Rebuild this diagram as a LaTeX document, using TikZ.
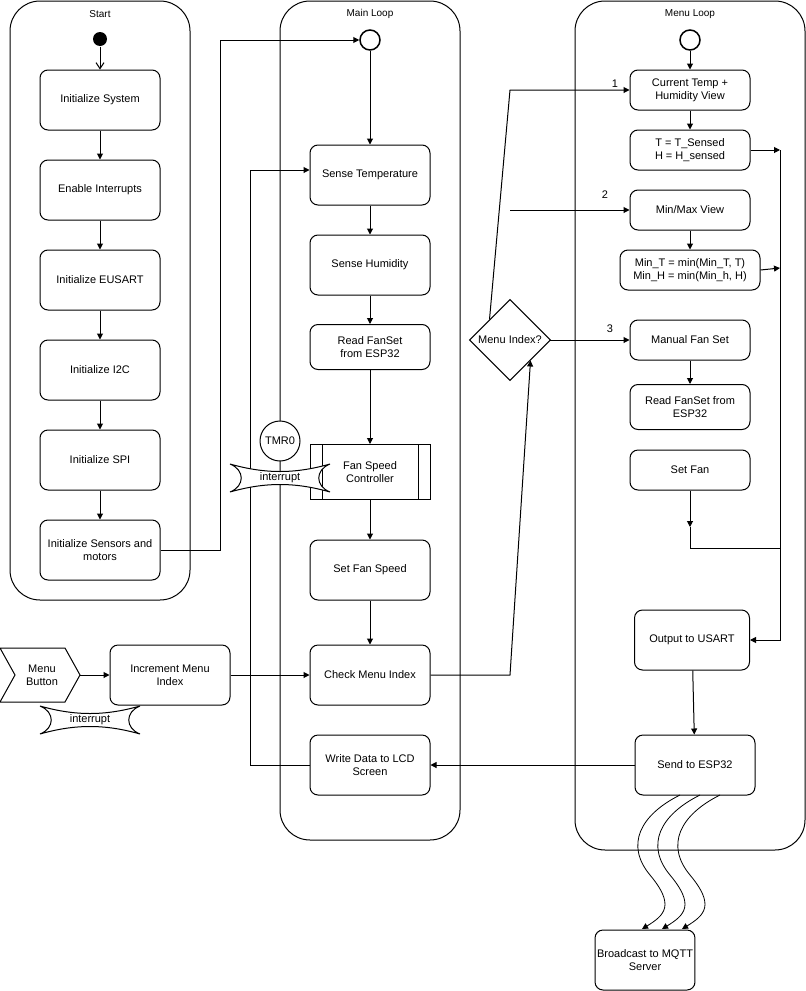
\documentclass[tikz,border=0pt]{standalone}
\usepackage{fontspec}
\setmainfont{Liberation Sans}
\usetikzlibrary{arrows.meta}
\begin{document}
\begin{tikzpicture}[x=1pt,y=-1pt,line width=1pt,font=\fontsize{11}{13}\selectfont,
  box/.style={draw,rounded corners=8pt,align=center,minimum width=120pt,minimum height=60pt,inner sep=2pt},
  lane/.style={draw,rounded corners=30pt},
  arr/.style={-{Triangle[length=6pt,width=6pt]}},
  ttl/.style={font=\fontsize{10}{12}\selectfont}]
\useasboundingbox (0,0) rectangle (806,991);
% lanes
\draw[lane] (10,1) rectangle (190,600);
\draw[lane] (280,1) rectangle (460,840);
\draw[lane] (575,1) rectangle (805,850);
\node[ttl] (t1) at (100,14) {Start};
\node[ttl] (t2) at (370,14) {Main Loop};
\node[ttl] (t3) at (690,14) {Menu Loop};
% start lane
\node[circle,fill=black,minimum size=14pt,inner sep=0] (dot) at (100,39) {};
\node[box] (is) at (100,100) {Initialize System};
\node[box] (ei) at (100,190) {Enable Interrupts};
\node[box] (eu) at (100,280) {Initialize EUSART};
\node[box] (i2) at (100,370) {Initialize I2C};
\node[box] (sp) at (100,460) {Initialize SPI};
\node[box] (sm) at (100,550) {Initialize Sensors and\\motors};
\draw[-{Straight Barb[length=6pt,width=8pt]}] (dot) -- (is);
\draw[arr] (is) -- (ei);
\draw[arr] (ei) -- (eu);
\draw[arr] (eu) -- (i2);
\draw[arr] (i2) -- (sp);
\draw[arr] (sp) -- (sm);
% main loop
\node[circle,draw,line width=1.5pt,minimum size=20pt,inner sep=0] (mc) at (370,40) {};
\node[box] (st) at (370,175) {Sense Temperature};
\node[box] (sh) at (370,265) {Sense Humidity};
\node[box,minimum height=45pt] (rf) at (370,347) {Read FanSet\\from ESP32};
\node[draw,align=center,minimum width=120pt,minimum height=55pt] (fc) at (370,472) {Fan Speed\\Controller};
\draw (322,445) -- (322,500) (418,445) -- (418,500);
\node[box] (sf) at (370,570) {Set Fan Speed};
\node[box] (cm) at (370,675) {Check Menu Index};
\node[box] (wd) at (370,765) {Write Data to LCD\\Screen};
\draw[arr] (sm.east) -| (220,40) -- (mc);
\draw[arr] (mc) -- (st);
\draw[arr] (st) -- (sh);
\draw[arr] (sh) -- (rf);
\draw[arr] (rf) -- (fc);
\draw[arr] (fc) -- (sf);
\draw[arr] (sf) -- (cm);
\draw[arr] (wd.west) -- (250,765) -- (250,170) -- (st.west |- 0,170);
\node[circle,draw,fill=white,minimum size=40pt,inner sep=0] (tmr) at (280,441) {TMR0};
\draw[fill=white] (230,464) .. controls (265,474) and (295,474) .. (330,464) .. controls (315,470) and (315,486) .. (330,492) .. controls (295,482) and (265,482) .. (230,492) .. controls (245,486) and (245,470) .. cycle;
\node (int1) at (280,478) {interrupt};
% menu button
\draw (0,648) -- (65,648) -- (80,675) -- (65,702) -- (0,702) -- (15,675) -- cycle;
\node[align=center] (mb) at (42,675) {Menu\\Button};
\node[box] (im) at (170,675) {Increment Menu\\Index};
\draw[arr] (80,675) -- (im);
\draw[arr] (im) -- (cm);
\draw[fill=white] (40,706) .. controls (75,716) and (105,716) .. (140,706) .. controls (125,712) and (125,728) .. (140,734) .. controls (105,724) and (75,724) .. (40,734) .. controls (55,728) and (55,712) .. cycle;
\node (int2) at (90,720) {interrupt};
% menu loop
\node[circle,draw,line width=1.5pt,minimum size=20pt,inner sep=0] (mlc) at (690,40) {};
\node[box,minimum height=40pt] (ct) at (690,90) {Current Temp +\\Humidity View};
\node[box,minimum height=40pt] (ts) at (690,150) {T = T\_Sensed\\H = H\_sensed};
\node[box,minimum height=40pt] (mm) at (690,210) {Min/Max View};
\node[box,minimum width=140pt,minimum height=40pt] (mt) at (690,270) {Min\_T = min(Min\_T, T)\\Min\_H = min(Min\_h, H)};
\node[box,minimum height=40pt] (mf) at (690,340) {Manual Fan Set};
\node[box,minimum height=45pt] (rf2) at (690,407) {Read FanSet from\\ESP32};
\node[box,minimum height=40pt] (sfan) at (690,470) {Set Fan};
\node[box,minimum width=115pt] (ou) at (692,640) {Output to USART};
\node[box] (se) at (695,765) {Send to ESP32};
\node[box,minimum width=95pt] (bc) at (645,960) {Broadcast to MQTT\\Server};
\draw[arr] (mlc) -- (ct);
\draw[arr] (ct) -- (ts);
\draw[arr] (mm) -- (mt);
\draw[arr] (mf) -- (rf2);
\node[draw,shape=rectangle,minimum size=57pt,rotate=45,fill=white] (dm) at (510,340) {};
\node (dml) at (510,340) {Menu Index?};
\draw[arr] (cm.east) -- (510,675) -- (dm.south);
\draw[arr] (dm.north) -- (510,90) -- (ct.west);
\draw[arr] (510,210) -- (mm.west);
\draw[arr] (550,340) -- (mf.west);
\node (l1) at (615,84) {1};
\node (l2) at (605,195) {2};
\node (l3) at (610,329) {3};
\coordinate (sfe) at (690,527);
\draw[arr] (sfan) -- (sfe);
\draw (sfe) -- (690,548) -- (780,548);
\draw[arr] (ts.east) -- (780,150);
\draw[arr] (mt.east) -- (780,268);
\draw[arr] (780,150) -- (780,640) -- (ou.east);
\draw[arr] (ou) -- (se);
\draw[arr] (se) -- (wd);
\foreach \d in {0,20,40}{
 \draw[arr,line width=0.8pt] (680+\d,795) .. controls (640+\d,815) and (625+\d,845) .. (650+\d,875) .. controls (675+\d,905) and (665+\d,915) .. (642+\d,929);
}
\end{tikzpicture}
\end{document}
